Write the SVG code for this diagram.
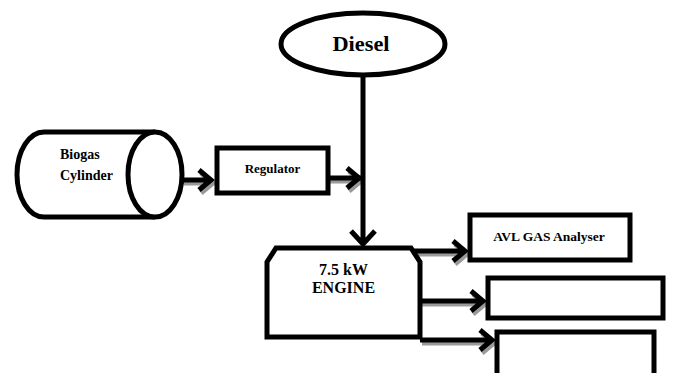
<svg xmlns="http://www.w3.org/2000/svg" width="673" height="373" viewBox="0 0 673 373">
<style>
.box{fill:#fff;stroke:#000;stroke-width:5}
.ln{fill:none;stroke:#000;stroke-width:5;stroke-linecap:butt;stroke-linejoin:miter}
.sh{fill:none;stroke:#9a9a9a;stroke-width:5;stroke-linejoin:miter}
.t{font-family:"Liberation Serif","Times New Roman",serif;font-weight:bold;fill:#000}
</style>
<rect width="673" height="373" fill="#fff"/>
<g id="connectors">
  <g transform="translate(2,3)">
    <path class="sh" d="M182 180 H211 M199 170 L211 180 L199 190"/>
    <path class="sh" d="M328 178 H359 M347 168 L359 178 L347 188"/>
    <path class="sh" d="M412 251 H465 M453 241 L465 251 L453 261"/>
    <path class="sh" d="M420 301 H483 M471 291 L483 301 L471 311"/>
    <path class="sh" d="M420 340 H492 M480 330 L492 340 L480 350"/>
  </g>
  <path class="ln" d="M363 76 V244 M351 231 L363 244 L375 231"/>
  <path class="ln" d="M182 180 H211 M199 170 L211 180 L199 190"/>
  <path class="ln" d="M328 178 H361"/>
  <path class="ln" d="M347 168 L359 178 L347 188"/>
  <path class="ln" d="M412 251 H465 M453 241 L465 251 L453 261"/>
  <path class="ln" d="M420 301 H483 M471 291 L483 301 L471 311"/>
  <path class="ln" d="M420 340 H492 M480 330 L492 340 L480 350"/>
</g>
<g id="diesel">
  <ellipse class="box" cx="363" cy="44" rx="82" ry="31"/>
  <text class="t" x="361" y="51" font-size="21" text-anchor="middle" textLength="57" lengthAdjust="spacingAndGlyphs">Diesel</text>
</g>
<g id="biogas-cylinder">
  <path class="box" d="M155 132 H44 A27 42.5 0 0 0 44 217 H155"/>
  <ellipse class="box" cx="155" cy="174.5" rx="27" ry="42.5"/>
  <text class="t" x="60" y="159" font-size="14">Biogas</text>
  <text class="t" x="60" y="180" font-size="14">Cylinder</text>
</g>
<g id="regulator">
  <rect class="box" x="217" y="148" width="111" height="45"/>
  <text class="t" x="272.5" y="173" font-size="13" text-anchor="middle">Regulator</text>
</g>
<g id="engine">
  <path class="box" d="M276 248 H411 L420 262 V337 H267 V262 Z"/>
  <text class="t" x="343.5" y="275" font-size="16" text-anchor="middle">7.5 kW</text>
  <text class="t" x="343.5" y="293" font-size="16" text-anchor="middle">ENGINE</text>
</g>
<g id="avl">
  <rect class="box" x="470" y="215" width="160" height="45"/>
  <text class="t" x="549" y="241" font-size="13.5" text-anchor="middle">AVL GAS Analyser</text>
</g>
<g id="box2">
  <rect class="box" x="488" y="278" width="175" height="40"/>
</g>
<g id="box3">
  <rect class="box" x="497" y="332" width="157" height="60"/>
</g>
</svg>
